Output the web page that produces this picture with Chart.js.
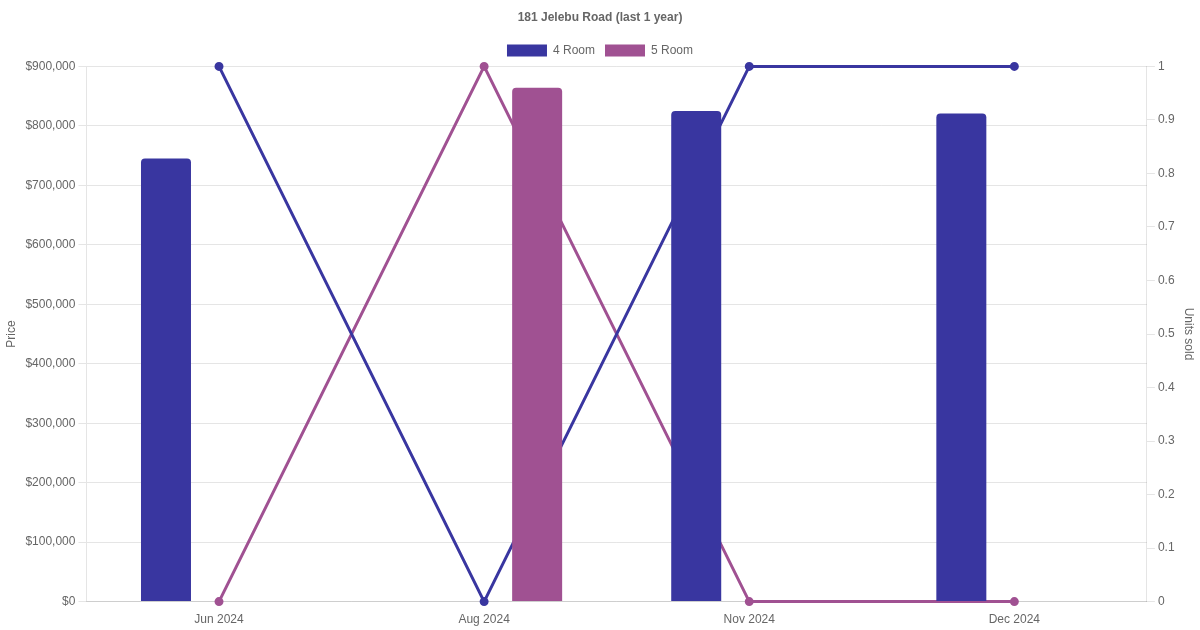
<!DOCTYPE html>
<html>
<head>
<meta charset="utf-8">
<script src="https://cdn.jsdelivr.net/npm/chart.js@4"></script>
<style>
  html, body { margin: 0; padding: 0; background: #fff; }
  #wrap { width: 1200px; height: 630px; }
</style>
</head>
<body>
<div id="wrap"><canvas id="myChart"></canvas></div>
<script>
// data
const months = ['Jun 2024', 'Aug 2024', 'Nov 2024', 'Dec 2024'];
const price4Room = [745000, null, 825000, 821000];
const price5Room = [null, 864000, null, null];
const units4Room = [1, 0, 1, 1];
const units5Room = [0, 1, 0, 0];

const blue = '#3936a0';
const purple = '#a05192';

const ctx = document.getElementById('myChart').getContext('2d');

new Chart(ctx, {
    type: 'bar',
    data: {
        labels: months,
        datasets: [
            {
                label: '4 Room',
                data: price4Room,
                backgroundColor: blue,
                borderColor: blue,
                borderRadius: 4,
                maxBarThickness: 50,
                yAxisID: 'y',
                order: 1
            },
            {
                label: '5 Room',
                data: price5Room,
                backgroundColor: purple,
                borderColor: purple,
                borderRadius: 4,
                maxBarThickness: 50,
                yAxisID: 'y',
                order: 1
            },
            {
                type: 'line',
                label: '4 Room units',
                data: units4Room,
                borderColor: blue,
                backgroundColor: blue,
                borderWidth: 3,
                pointRadius: 3,
                yAxisID: 'y1',
                order: 2
            },
            {
                type: 'line',
                label: '5 Room units',
                data: units5Room,
                borderColor: purple,
                backgroundColor: purple,
                borderWidth: 3,
                pointRadius: 3,
                yAxisID: 'y1',
                order: 2
            }
        ]
    },
    options: {
        responsive: true,
        maintainAspectRatio: false,
        animation: false,
        plugins: {
            title: {
                display: true,
                text: '181 Jelebu Road (last 1 year)'
            },
            legend: {
                labels: {
                    filter: (item) => item.datasetIndex < 2
                }
            }
        },
        scales: {
            x: {
                grid: { display: false }
            },
            y: {
                position: 'left',
                beginAtZero: true,
                title: { display: true, text: 'Price' },
                ticks: {
                    callback: (v) => '$' + v.toLocaleString('en-US')
                }
            },
            y1: {
                position: 'right',
                beginAtZero: true,
                title: { display: true, text: 'Units sold' },
                grid: { drawOnChartArea: false },
                ticks: {
                    callback: (v) => String(+v.toFixed(2))
                }
            }
        }
    }
});
</script>
</body>
</html>
